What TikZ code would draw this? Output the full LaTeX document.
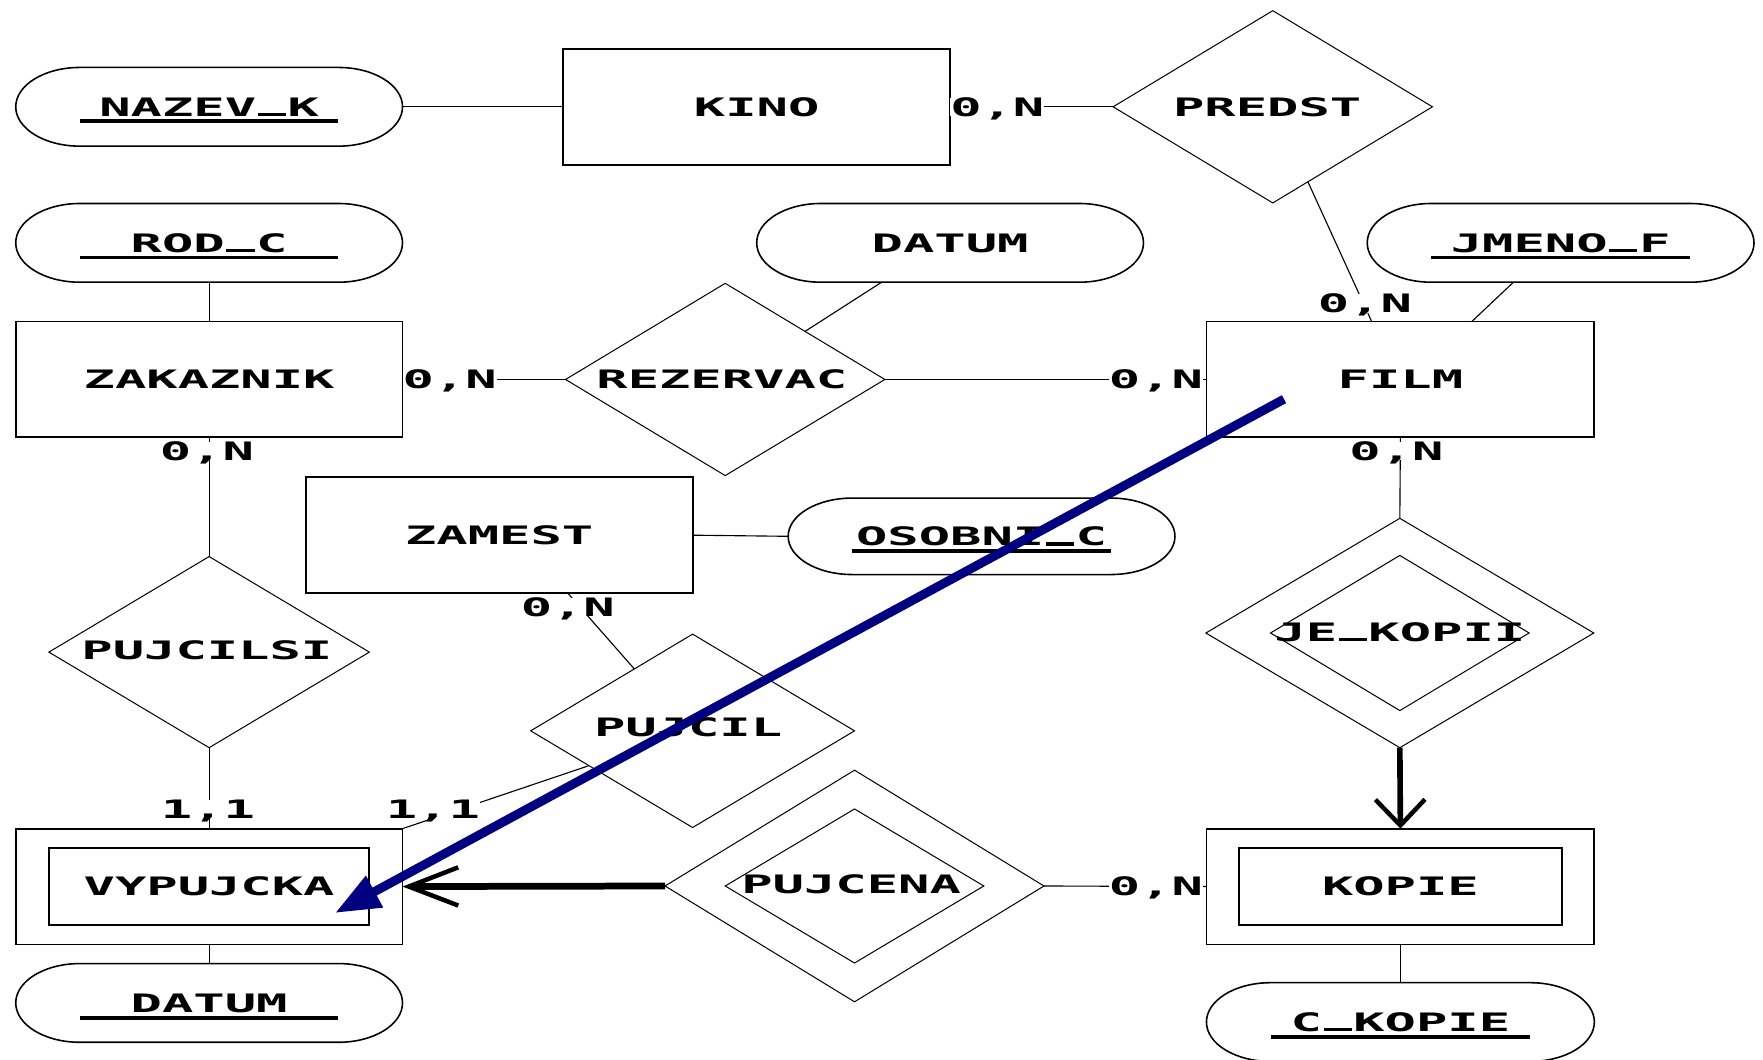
\documentclass[tikz,border=0pt]{standalone}
\usepackage{fontspec}
\newfontfamily\erfont[FakeStretch=2.05]{DejaVu Sans Mono}
\usetikzlibrary{shapes.geometric,arrows.meta,calc}
\definecolor{navyblue}{RGB}{0,0,128}
\newcommand\erus{\makebox[27.9pt][c]{\rule{25pt}{2.8pt}}}
\begin{document}
\begin{tikzpicture}[x=1pt,y=1pt,
  txt/.style={font={\erfont\bfseries\fontsize{22.6pt}{24pt}\selectfont}, inner sep=0pt, outer sep=0pt, text height=16.5pt, text depth=0pt},
  ent/.style={txt, draw, line width=1.6pt, minimum width=344pt, minimum height=103pt},
  attr/.style={txt, minimum width=344pt, minimum height=70pt},
  rel/.style={diamond, draw, line width=0.9pt, inner sep=0pt, outer sep=0pt},
  conn/.style={line width=1pt},
  lab/.style={txt, fill=white},
  stadline/.style={line width=1.4pt},
  uline/.style={line width=3.5pt},
  heavyarrow/.style={line width=6pt, -{Straight Barb[length=44pt, width=34pt, line width=4pt]}},
  heavyarrowb/.style={line width=5pt, -{Straight Barb[length=23pt, width=44pt, line width=4pt]}},
  bluearrow/.style={navyblue, line width=8pt, -{Triangle[length=40pt, width=30pt]}}
]
\useasboundingbox (0,0) rectangle (1568,942);
\fill[white] (0,0) rectangle (1568,942);
\clip (0,0) rectangle (1568,942);

% entities
\node[ent] (kino) at (673,847) {KINO};
\node[ent] (zakaznik) at (186,604.5) {ZAKAZNIK};
\node[ent, minimum width=345pt] (film) at (1245.5,604.5) {FILM};
\node[ent] (zamest) at (444,466) {ZAMEST};
\node[ent] (vypujcka) at (186,153.5) {};
\node[ent, minimum width=285pt, minimum height=69pt] (vypujcka-in) at (186,153.5) {VYPUJCKA};
\node[ent, minimum width=345pt] (kopie) at (1245.5,153.5) {};
\node[ent, minimum width=287pt, minimum height=69pt] (kopie-in) at (1245.5,153.5) {KOPIE};

% attributes
\node[attr] (nazev) at (186,847) {NAZEV\erus K};
\node[attr] (rodc) at (186,726) {ROD\erus C};
\node[attr] (datum1) at (845,726) {DATUM};
\node[attr] (jmeno) at (1388,726) {JMENO\erus F};
\node[attr, minimum height=68pt] (osobni) at (873,465) {OSOBNI\erus C};
\node[attr] (datum2) at (186,50) {DATUM};
\node[attr, minimum width=345pt] (ckopie) at (1245.5,33) {C\erus KOPIE};

\foreach \n/\h in {nazev/35, rodc/35, datum1/35, jmeno/35, osobni/34, datum2/35, ckopie/35}{
  \draw[stadline] ($(\n.north west)+(57,0)$) -- ($(\n.north east)+(-57,0)$)
    arc[start angle=90, end angle=-90, x radius=57pt, y radius=\h pt]
    -- ($(\n.south west)+(57,0)$)
    arc[start angle=270, end angle=90, x radius=57pt, y radius=\h pt] -- cycle;
}
\foreach \n in {nazev, rodc, jmeno, osobni, datum2, ckopie}{
  \draw[uline] ($(\n.west)+(57,-13)$) -- ($(\n.east)+(-57,-13)$);
}

% relationships
\node[rel, minimum width=284pt, minimum height=171pt] (predst) at (1132,847) {};
\node[txt] (predst-t) at (1127,847) {PREDST};
\node[rel, minimum width=284pt, minimum height=171pt] (rezervac) at (645,604.5) {};
\node[txt] (rezervac-t) at (642,605) {REZERVAC};
\node[rel, minimum width=345pt, minimum height=204pt] (jekopii) at (1245,379) {};
\node[rel, minimum width=230pt, minimum height=138pt] (jekopii-in) at (1245,379) {};
\node[txt] (jekopii-t) at (1245,380) {JE\erus KOPII};
\node[rel, minimum width=285pt, minimum height=170pt] (pujcilsi) at (186,362) {};
\node[txt] (pujcilsi-t) at (184,364) {PUJCILSI};
\node[rel, minimum width=288pt, minimum height=172pt] (pujcil) at (616,292) {};
\node[txt] (pujcil-t) at (612,295) {PUJCIL};
\node[rel, minimum width=337pt, minimum height=206pt] (pujcena) at (760,154) {};
\node[rel, minimum width=230pt, minimum height=137pt] (pujcena-in) at (760,154) {};
\node[txt] (pujcena-t) at (757,156) {PUJCENA};

% connectors
\draw[conn] (nazev.east) -- (kino.west);
\draw[conn] (kino.east) -- (predst.west);
\draw[conn] ($(predst.south)!0.22!(predst.east)$) -- ($(film.north west)!0.426!(film.north east)$);
\draw[conn] ($(jmeno.south west)!0.378!(jmeno.south east)$) -- ($(film.north west)!0.684!(film.north east)$);
\draw[conn] (rodc.south) -- (zakaznik.north);
\draw[conn] (zakaznik.east) -- (rezervac.west);
\draw[conn] (rezervac.east) -- (film.west);
\draw[conn] ($(datum1.south west)!0.323!(datum1.south east)$) -- ($(rezervac.north)!0.5!(rezervac.east)$);
\draw[conn] (zakaznik.south) -- (pujcilsi.north);
\draw[conn] (film.south) -- (jekopii.north);
\draw[conn] (zamest.east) -- (osobni.west);
\draw[conn] ($(zamest.south west)!0.677!(zamest.south east)$) -- ($(pujcil.north)!0.36!(pujcil.west)$);
\draw[conn] (pujcilsi.south) -- (vypujcka.north);
\draw[conn] ($(pujcil.west)!0.36!(pujcil.south)$) -- (vypujcka.north east);
\draw[conn] (vypujcka.south) -- (datum2.north);
\draw[heavyarrow] (pujcena.west) -- (vypujcka.east);
\draw[conn] (pujcena.east) -- (kopie.west);
\draw[heavyarrowb] (jekopii.south) -- (kopie.north);
\draw[conn] (kopie.south) -- (ckopie.north);

% cardinality labels
\node[lab] (l1) at (887,847) {0,N};
\node[lab] (l2) at (400,604.5) {0,N};
\node[lab] (l3) at (1028,604.5) {0,N};
\node[lab] (l4) at (1214,672) {0,N};
\node[lab] (l5) at (1242,541) {0,N};
\node[lab] (l6) at (184,541) {0,N};
\node[lab] (l7) at (505,402) {0,N};
\node[lab] (l8) at (185,222) {1,1};
\node[lab] (l9) at (385,222) {1,1};
\node[lab] (l10) at (1028,154) {0,N};

% blue overlay arrow
\coordinate (b1) at (1142,587);
\coordinate (b2) at (298,130);
\draw[bluearrow] (b1) -- (b2);
\end{tikzpicture}
\end{document}
